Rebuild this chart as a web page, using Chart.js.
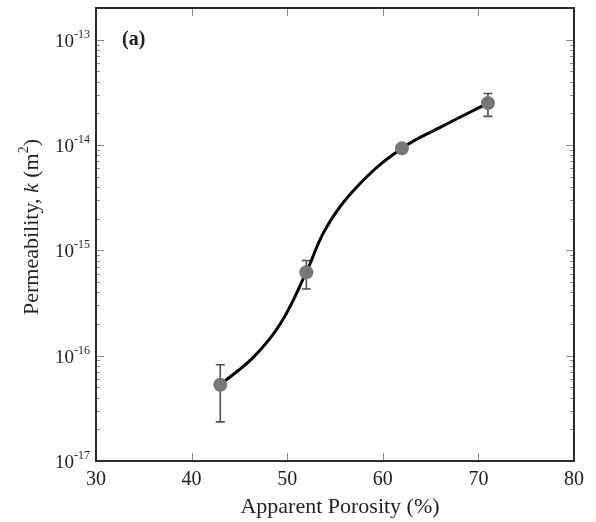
<!DOCTYPE html>
<html>
<head>
<meta charset="utf-8">
<script src="https://cdn.jsdelivr.net/npm/chart.js@4"></script>
<style>
  html, body { margin: 0; padding: 0; background: #fff; }
  #wrap { width: 596px; height: 522px; }
</style>
</head>
<body>
<div id="wrap"><canvas id="c" width="596" height="522"></canvas></div>
<script>
// ---- data ----
const porosity = [43, 52, 62, 71];
const permeability = [5.3e-17, 6.2e-16, 9.3e-15, 2.5e-14];
const errLow  = [2.35e-17, 4.3e-16, 9.3e-15, 1.87e-14];
const errHigh = [8.2e-17, 8.0e-16, 9.3e-15, 3.08e-14];

// fitted curve, read at a few points along the drawn line
const fitX = [43, 46.5, 49.3, 52, 54.1, 57.6, 62, 66, 71];
const fitY = [5.3e-17, 9.75e-17, 2.02e-16, 6.2e-16, 1.65e-15, 4.29e-15, 9.3e-15, 1.47e-14, 2.5e-14];

const xTicks = [30, 40, 50, 60, 70, 80];
const yTickExp = [-17, -16, -15, -14, -13];

const SERIF = '"Liberation Serif", "Times New Roman", serif';

const decor = {
  id: 'decor',
  beforeDatasetsDraw(chart) {
    const ctx = chart.ctx, xs = chart.scales.x, ys = chart.scales.y;
    ctx.save();
    ctx.strokeStyle = '#505050';
    ctx.lineWidth = 1.6;
    for (let i = 0; i < porosity.length; i++) {
      const x = xs.getPixelForValue(porosity[i]);
      const y1 = ys.getPixelForValue(errLow[i]);
      const y2 = ys.getPixelForValue(errHigh[i]);
      if (Math.abs(y1 - y2) < 1) continue;
      ctx.beginPath();
      ctx.moveTo(x, y1); ctx.lineTo(x, y2);
      ctx.moveTo(x - 4.5, y1); ctx.lineTo(x + 4.5, y1);
      ctx.moveTo(x - 4.5, y2); ctx.lineTo(x + 4.5, y2);
      ctx.stroke();
    }
    ctx.restore();
  },
  afterDraw(chart) {
    const ctx = chart.ctx, xs = chart.scales.x, ys = chart.scales.y;
    const a = chart.chartArea;
    ctx.save();
    // ticks (inward)
    ctx.strokeStyle = '#8a8a8a';
    ctx.lineWidth = 1;
    ctx.beginPath();
    xTicks.forEach(v => {
      const x = Math.round(xs.getPixelForValue(v)) + 0.5;
      ctx.moveTo(x, a.bottom); ctx.lineTo(x, a.bottom - 8);
      ctx.moveTo(x, a.top); ctx.lineTo(x, a.top + 8);
    });
    for (let e = -17; e <= -13; e++) {
      for (let m = 1; m <= 9; m++) {
        const v = m * Math.pow(10, e);
        if (v > ys.max * 1.0001 || v < ys.min * 0.9999) continue;
        const y = Math.round(ys.getPixelForValue(v)) + 0.5;
        const len = m === 1 ? 8 : 4;
        ctx.moveTo(a.left, y); ctx.lineTo(a.left + len, y);
        ctx.moveTo(a.right, y); ctx.lineTo(a.right - len, y);
      }
    }
    ctx.stroke();
    // frame
    ctx.strokeStyle = '#2a2a2a';
    ctx.lineWidth = 2;
    ctx.strokeRect(a.left, a.top, a.right - a.left, a.bottom - a.top);

    ctx.fillStyle = '#1e1e1e';
    // x tick labels
    ctx.font = '20px ' + SERIF;
    ctx.textAlign = 'center';
    ctx.textBaseline = 'middle';
    xTicks.forEach(v => {
      ctx.fillText(String(v), xs.getPixelForValue(v), 480);
    });
    // y tick labels: 10 with superscript exponent
    ctx.textBaseline = 'alphabetic';
    ctx.textAlign = 'left';
    yTickExp.forEach(e => {
      const y = ys.getPixelForValue(Math.pow(10, e));
      ctx.font = '19px ' + SERIF;
      const bw = ctx.measureText('10').width;
      ctx.font = '12px ' + SERIF;
      const sup = String(e);
      const sw = ctx.measureText(sup).width;
      const right = 90;
      const x0 = right - sw - bw;
      ctx.font = '19px ' + SERIF;
      ctx.fillText('10', x0, y + 7);
      ctx.font = '12px ' + SERIF;
      ctx.fillText(sup, x0 + bw, y - 2);
    });
    // x title
    ctx.font = '22px ' + SERIF;
    ctx.textAlign = 'center';
    ctx.fillText('Apparent Porosity (%)', 340, 513);
    // y title (rotated)
    ctx.save();
    ctx.translate(38, 227);
    ctx.rotate(-Math.PI / 2);
    const parts = [
      { t: 'Permeability, ', f: '22px ' + SERIF, dy: 0 },
      { t: 'k', f: 'italic 22px ' + SERIF, dy: 0 },
      { t: ' (m', f: '22px ' + SERIF, dy: 0 },
      { t: '2', f: '14px ' + SERIF, dy: -10 },
      { t: ')', f: '22px ' + SERIF, dy: 0 }
    ];
    let total = 0;
    parts.forEach(p => { ctx.font = p.f; p.w = ctx.measureText(p.t).width; total += p.w; });
    let px = -total / 2;
    ctx.textAlign = 'left';
    parts.forEach(p => { ctx.font = p.f; ctx.fillText(p.t, px, p.dy); px += p.w; });
    ctx.restore();
    // panel label
    ctx.font = 'bold 20px ' + SERIF;
    ctx.textAlign = 'left';
    ctx.fillText('(a)', 122, 45);
    ctx.restore();
  }
};

new Chart(document.getElementById('c'), {
  type: 'scatter',
  data: {
    datasets: [
      {
        label: 'Measured',
        data: porosity.map((x, i) => ({ x, y: permeability[i] })),
        pointRadius: 7,
        pointBackgroundColor: '#777777',
        pointBorderColor: '#777777',
        pointBorderWidth: 0,
        showLine: false,
        order: 0
      },
      {
        label: 'Fit',
        data: fitX.map((x, i) => ({ x, y: fitY[i] })),
        showLine: true,
        borderColor: '#000',
        borderWidth: 3,
        pointRadius: 0,
        tension: 0.4,
        fill: false,
        order: 1
      }
    ]
  },
  options: {
    responsive: false,
    animation: false,
    events: [],
    layout: { padding: { left: 0, right: 22, top: 8, bottom: 0 } },
    plugins: { legend: { display: false }, tooltip: { enabled: false } },
    scales: {
      x: {
        type: 'linear', min: 30, max: 80,
        ticks: { display: false, stepSize: 10 },
        grid: { display: false },
        border: { display: false },
        afterFit: s => { s.height = 61; }
      },
      y: {
        type: 'logarithmic', min: 1e-17, max: 2e-13,
        ticks: { display: false },
        grid: { display: false },
        border: { display: false },
        afterFit: s => { s.width = 96; }
      }
    }
  },
  plugins: [decor]
});
</script>
</body>
</html>
